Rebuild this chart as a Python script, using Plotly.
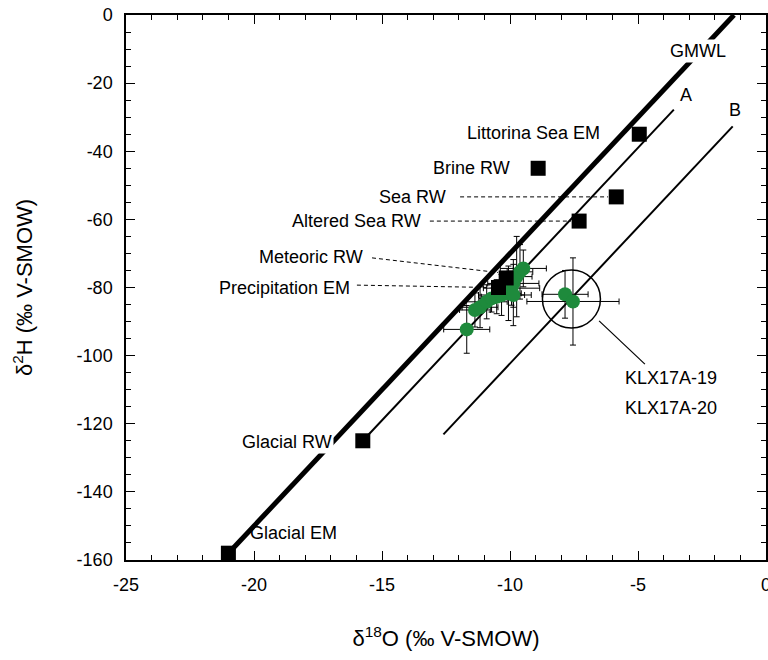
import plotly.graph_objects as go

# End-member / reference-water compositions (δ18O, δ2H)
em_names = ["Glacial EM", "Glacial RW", "Littorina Sea EM", "Brine RW", "Sea RW",
            "Altered Sea RW", "Meteoric RW", "Precipitation EM"]
em_d18o = [-21.0, -15.75, -4.95, -8.9, -5.85, -7.3, -10.15, -10.45]
em_d2h = [-158.0, -125.0, -35.0, -45.0, -53.4, -60.5, -77.2, -80.0]

# Groundwater samples with analytical uncertainty
gw_d18o = [-11.69, -11.37, -11.17, -10.91, -10.72, -10.52, -10.33, -10.06, -9.94,
           -9.87, -9.74, -9.61, -9.48, -9.87]
gw_d2h = [-92.3, -86.6, -85.8, -84.2, -83.2, -82.7, -82.2, -81.7, -80.2,
          -78.8, -76.8, -75.4, -74.4, -82.2]
gw_err_x = [0.9, 0.6, 0.7, 0.8, 0.5, 0.6, 0.9, 0.5, 1.1, 1.0, 0.6, 0.5, 0.9, 0.7]
gw_err_y = [7.0, 5.0, 6.0, 5.0, 4.0, 5.0, 6.0, 8.0, 5.0, 7.0, 11.8, 8.0, 5.4, 9.0]

# KLX17A samples
klx_names = ["KLX17A-19", "KLX17A-20"]
klx_d18o = [-7.85, -7.54]
klx_d2h = [-82.0, -84.1]
klx_err_x = [0.9, 1.8]
klx_err_y = [7.0, 12.8]

# Reference lines δ2H = 8·δ18O + d (GMWL, A, B)
line_names = ["GMWL", "A", "B"]
line_slope = [8.0, 8.0, 8.0]
line_excess = [10.0, 1.0, -22.3]
line_x_start = [-21.0, -15.75, -12.6]
line_x_end = [-1.25, -3.6, -1.3]
line_width = [5, 2, 2]

x_ticks = [-25, -20, -15, -10, -5, 0]
x_tick_text = ["-25", "-20", "-15", "-10", "-5", "0"]
y_ticks = [0, -20, -40, -60, -80, -100, -120, -140, -160]
y_tick_text = ["0", "-20", "-40", "-60", "-80", "-100", "-120", "-140", "-160"]

FONT = "Liberation Sans, Arial, Helvetica, sans-serif"
GREEN = "#1e8a3c"

fig = go.Figure()

for name, m, d, xa, xb, w in zip(line_names, line_slope, line_excess,
                                 line_x_start, line_x_end, line_width):
    fig.add_trace(go.Scatter(
        x=[xa, xb], y=[m * xa + d, m * xb + d], mode="lines",
        line=dict(color="black", width=w), name=name, showlegend=False,
        hoverinfo="skip"))

err_style = dict(type="data", color="black", thickness=1, width=3)
fig.add_trace(go.Scatter(
    x=gw_d18o, y=gw_d2h, mode="markers",
    marker=dict(symbol="circle", size=14, color=GREEN),
    error_x=dict(array=gw_err_x, **err_style),
    error_y=dict(array=gw_err_y, **err_style),
    showlegend=False))
fig.add_trace(go.Scatter(
    x=klx_d18o, y=klx_d2h, mode="markers", text=klx_names,
    marker=dict(symbol="circle", size=14, color=GREEN),
    error_x=dict(array=klx_err_x, **err_style),
    error_y=dict(array=klx_err_y, **err_style),
    showlegend=False))

fig.add_trace(go.Scatter(
    x=em_d18o, y=em_d2h, mode="markers", text=em_names,
    marker=dict(symbol="square", size=15, color="black"),
    showlegend=False))

# Label placements: (text, x, y, xanchor, white box)
labels = [
    ("GMWL", -2.66, -10.6, "center", True),
    ("A", -3.13, -23.5, "center", False),
    ("B", -1.21, -27.9, "center", False),
    ("Littorina Sea EM", -6.41, -34.6, "right", True),
    ("Brine RW", -9.92, -44.9, "right", False),
    ("Sea RW", -15.2, -53.4, "left", False),
    ("Altered Sea RW", -13.4, -60.5, "right", False),
    ("Meteoric RW", -15.66, -71.05, "right", False),
    ("Precipitation EM", -16.17, -80.15, "right", False),
    ("Glacial RW", -16.875, -125.4, "right", True),
    ("Glacial EM", -20.23, -152.1, "left", False),
    ("KLX17A-19", -5.59, -106.6, "left", False),
    ("KLX17A-20", -5.59, -115.4, "left", False),
]
for txt, lx, ly, anc, box in labels:
    fig.add_annotation(
        x=lx, y=ly, text=txt, showarrow=False, xanchor=anc, yanchor="middle",
        font=dict(family=FONT, size=18, color="black"),
        bgcolor="white" if box else "rgba(0,0,0,0)", borderpad=1)

# Dashed leaders from labels to their end-member squares
leaders = [
    ("Sea RW", -11.95, -53.4),
    ("Altered Sea RW", -13.13, -60.5),
    ("Meteoric RW", -15.39, -71.3),
    ("Precipitation EM", -15.98, -79.3),
]
for name, sx, sy in leaders:
    i = em_names.index(name)
    fig.add_shape(type="line", x0=sx, y0=sy, x1=em_d18o[i] - 0.32,
                  y1=em_d2h[i] + (1.6 if name == "Meteoric RW" else 0.0),
                  line=dict(color="black", width=1, dash="4px,3px"))

# Circle around the KLX17A samples and its leader
cx, cy = -7.6, -83.4
rx, ry = 1.133, 8.51
fig.add_shape(type="circle", x0=cx - rx, x1=cx + rx, y0=cy - ry, y1=cy + ry,
              line=dict(color="black", width=1.5))
fig.add_shape(type="line", x0=-6.52, y0=-89.8, x1=-4.73, y1=-102.5,
              line=dict(color="black", width=1.2))

axis_common = dict(
    showgrid=False, zeroline=False, showline=True, linecolor="black",
    linewidth=1.5, mirror="ticks", ticks="inside", ticklen=9, tickwidth=1,
    tickcolor="black", ticklabelstandoff=8, automargin=False,
    ticklabeloverflow="allow",
    tickfont=dict(family=FONT, size=18, color="black"),
)

fig.update_xaxes(
    range=[-25, 0], tickvals=x_ticks, ticktext=x_tick_text,
    minor=dict(ticks="inside", dtick=1, ticklen=5, tickcolor="black", tickwidth=1),
    title=dict(text="δ<sup>18</sup>O (‰ V-SMOW)", standoff=36,
               font=dict(family=FONT, size=22, color="black")),
    **axis_common)
fig.update_yaxes(
    range=[-160, 0], tickvals=y_ticks, ticktext=y_tick_text,
    minor=dict(ticks="inside", dtick=5, ticklen=5, tickcolor="black", tickwidth=1),
    title=dict(text="δ<sup>2</sup>H (‰ V-SMOW)", standoff=38,
               font=dict(family=FONT, size=22, color="black")),
    **axis_common)

fig.update_layout(
    width=768, height=660,
    margin=dict(l=126, r=2, t=15, b=100),
    plot_bgcolor="white", paper_bgcolor="white",
    showlegend=False,
)

fig.write_html("out.html")
